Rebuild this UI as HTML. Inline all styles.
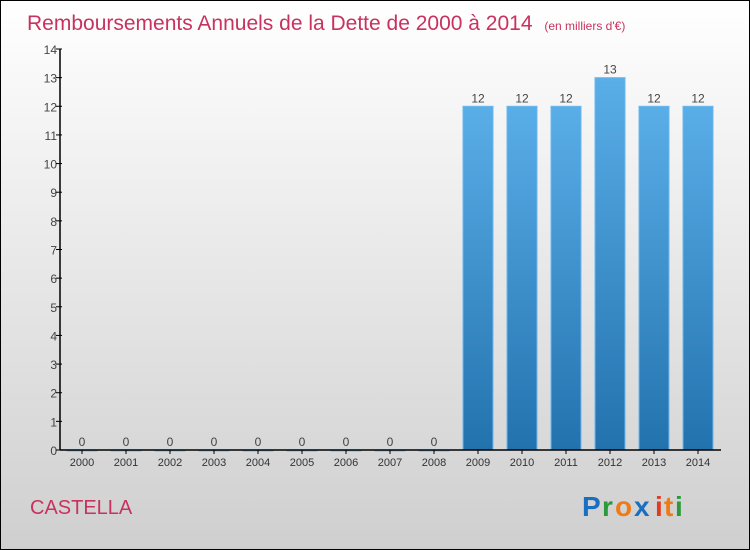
<!DOCTYPE html>
<html><head><meta charset="utf-8"><style>
body{margin:0}
svg{display:block;font-family:"Liberation Sans",sans-serif}
</style></head><body>
<svg width="750" height="550" viewBox="0 0 750 550">
<defs>
<linearGradient id="bg" x1="0" y1="0" x2="0" y2="1"><stop offset="0" stop-color="#ffffff"/><stop offset="1" stop-color="#cfcfcf"/></linearGradient>
<linearGradient id="bar" x1="0" y1="0" x2="0" y2="1"><stop offset="0" stop-color="#5aaee8"/><stop offset="1" stop-color="#2272ae"/></linearGradient>
</defs>
<rect x="0.5" y="0.5" width="749" height="549" fill="url(#bg)" stroke="#000"/>
<text x="27" y="30" font-size="21" fill="#c8325f">Remboursements Annuels de la Dette de 2000 à 2014 <tspan font-size="12" dx="6">(en milliers d'€)</tspan></text>
<g id="plot"></g>
<text x="30" y="514" font-size="20" fill="#c8325f">CASTELLA</text>
<g font-size="28" font-family="'Liberation Sans',sans-serif" font-weight="bold">
<text x="582" y="516" fill="#1a6fc0">P</text><text x="602" y="516" fill="#2a9a3a">r</text><text x="615" y="516" fill="#f07b14">o</text><text x="634" y="516" fill="#1a6fc0">x</text><text x="655" y="516" fill="#e23b1e">i</text><text x="664" y="516" fill="#f07b14">t</text><text x="675" y="516" fill="#2a9a3a">i</text>
</g>
</svg>
<script>
const years=['2000','2001','2002','2003','2004','2005','2006','2007','2008','2009','2010','2011','2012','2013','2014'];
const values=[0,0,0,0,0,0,0,0,0,12,12,12,13,12,12];
const yTicks=[0,1,2,3,4,5,6,7,8,9,10,11,12,13,14];
const NS='http://www.w3.org/2000/svg';
const g=document.getElementById('plot');
const y=v=>450-v*(401/14);
const x=i=>82+i*44;
function mk(t,a,txt){const e=document.createElementNS(NS,t);for(const k in a)e.setAttribute(k,a[k]);if(txt!==undefined)e.textContent=txt;g.appendChild(e);return e;}
values.forEach((v,i)=>{
  const h=450-y(v);
  const r=mk('rect',{x:x(i)-15,y:y(v),width:30,height:Math.max(h,1),fill:'url(#bar)',stroke:'#6bb8ee','stroke-width':1});
  
  
  const l=mk('text',{x:x(i),y:y(v)-4,'text-anchor':'middle','font-size':12,fill:'#444'},String(v));
  
  
  const xl=mk('text',{x:x(i),y:466,'text-anchor':'middle','font-size':11,fill:'#333'},years[i]);
  
  
  const tk=mk('line',{x1:x(i),x2:x(i),y1:450,y2:454,stroke:'#000'});
  
  
});
yTicks.forEach(t=>{
  const tl=mk('text',{x:57,y:y(t)+5,'text-anchor':'end','font-size':12,fill:'#444'},String(t));
  
  
  const tk=mk('line',{x1:56,x2:62,y1:y(t),y2:y(t),stroke:'#000'});
  
  
});
const ya=mk('line',{x1:60,x2:60,y1:y(14),y2:450,stroke:'#000','stroke-width':1.5});


const xa=mk('line',{x1:60,x2:721,y1:450,y2:450,stroke:'#000','stroke-width':1.5});


</script>
</body></html>
